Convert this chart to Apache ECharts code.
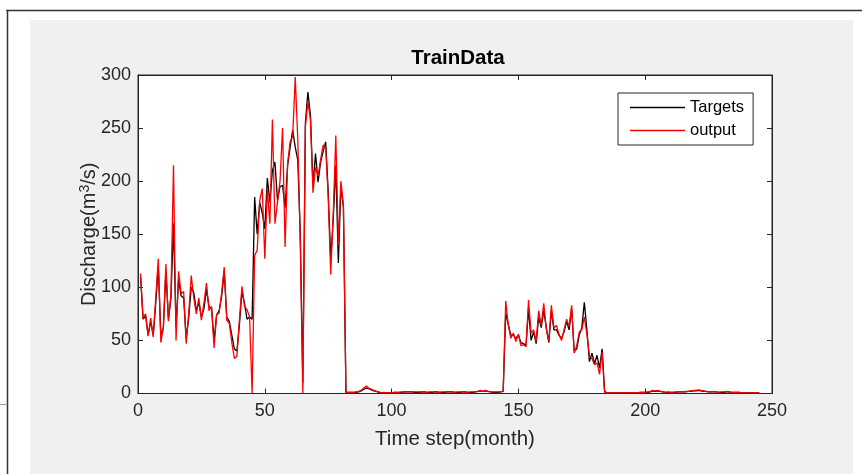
<!DOCTYPE html>
<html>
<head>
<meta charset="utf-8">
<script src="https://cdn.jsdelivr.net/npm/echarts@6/dist/echarts.min.js"></script>
<style>
html,body{margin:0;padding:0;background:#fff;}
#chart{width:862px;height:474px;}
</style>
</head>
<body>
<div id="chart"></div>
<script>
// ---- data (time step 1..245) ----
var titleText = 'TrainData';
var seriesNames = ['Targets', 'output'];
var xTicks = [0, 50, 100, 150, 200, 250];
var yTicks = [0, 50, 100, 150, 200, 250, 300];

var targets = [
  110, 70, 73, 55, 68, 55, 85, 120, 55, 62,
  115, 70, 90, 160, 62, 108, 92, 90, 52, 72,
  100, 95, 78, 86, 72, 80, 98, 82, 80, 50,
  74, 78, 92, 115, 72, 68, 55, 42, 40, 65,
  96, 85, 70, 72, 70, 185, 150, 180, 170, 155,
  203, 180, 210, 218, 182, 195, 196, 175, 215, 232,
  248, 232, 220, 150, 10, 255, 284, 262, 196, 226,
  199, 218, 228, 237, 190, 126, 165, 215, 123, 195,
  175, 1, 1, 1, 1, 1, 1.5, 2.5, 4, 5,
  4.5, 3.5, 2.5, 2, 1, 0.5, 0.5, 0.5, 0.5, 0.5,
  1, 1, 1, 1, 1.5, 1.5, 1.5, 1.5, 1, 1,
  1, 1.5, 1.5, 1, 1, 1, 1.5, 1.5, 1, 1,
  1, 1.5, 1.5, 1.5, 1, 1, 1, 1.5, 1.5, 1,
  1, 1, 1.5, 2, 2.5, 2, 2.5, 2, 1.5, 1,
  1, 1, 1.5, 2, 76, 65, 55, 55, 52, 55,
  48, 47, 45, 80, 50, 58, 47, 72, 62, 78,
  62, 48, 78, 60, 60, 55, 52, 58, 68, 60,
  80, 40, 42, 55, 62, 86, 60, 30, 38, 28,
  36, 24, 42, 2, 0.5, 0.5, 0.5, 0.5, 0.5, 0.5,
  0.5, 0.5, 0.5, 0.5, 0.5, 0.5, 0.5, 1, 1, 1,
  1, 1.5, 2.5, 2, 2.5, 2, 1.5, 1, 1, 1,
  1, 1, 1.5, 1.5, 1.5, 1.5, 2, 2, 2.5, 2.5,
  3, 2.5, 2, 2, 1.5, 1.5, 1.5, 1.5, 1, 1,
  1, 1.5, 1.5, 1, 1, 1, 1, 0.5, 0.5, 0.5,
  0.5, 0.5, 0.5, 0.5, 0.5
];

var output = [
  113, 71, 75, 54, 71, 53, 90, 127, 48, 62,
  122, 68, 94, 215, 50, 115, 94, 96, 47, 75,
  111, 90, 75, 90, 69, 85, 104, 78, 82, 43,
  74, 76, 95, 119, 69, 66, 48, 33, 35, 70,
  101, 82, 79, 72, 0, 130, 135, 182, 193, 127,
  192, 160, 258, 160, 180, 200, 250, 138, 217, 237,
  242, 298, 240, 140, 0, 251, 275, 258, 189, 213,
  205, 220, 234, 232, 185, 112, 170, 243, 140, 200,
  178, 1, 1, 1, 1, 1.5, 2, 3, 5, 7,
  5, 4, 3, 2, 1.5, 0.5, 1, 0.5, 0.5, 0.5,
  1, 1, 1, 1.5, 1.5, 1.5, 1.5, 1.5, 1.5, 1.5,
  1.5, 1.5, 1, 1, 1.5, 1.5, 1.5, 1, 1, 1.5,
  1.5, 1.5, 1.5, 1, 1, 1.5, 1.5, 1.5, 1, 1,
  1.5, 1.5, 1.5, 2, 3, 2, 3, 2, 1.5, 1.5,
  1.5, 1.5, 1.5, 2, 87, 65, 52, 57, 49, 56,
  45, 46, 44, 88, 57, 60, 49, 78, 64, 85,
  61, 49, 83, 62, 64, 56, 50, 60, 70, 63,
  83, 38, 45, 58, 60, 72, 56, 36, 33, 27,
  29, 18, 39, 1, 0.5, 0.5, 0.5, 0.5, 0.5, 0.5,
  0.5, 0.5, 0.5, 0.5, 0.5, 0.5, 0.5, 1, 1, 1,
  1.5, 2, 3, 2.5, 3, 2, 1.5, 1, 1.5, 1,
  1, 1.5, 1.5, 1.5, 1.5, 2, 2, 2.5, 3, 3,
  3.5, 3, 2.5, 2, 1.5, 1.5, 2, 1.5, 1, 1.5,
  1.5, 2, 1.5, 1, 1, 1, 1, 0.5, 0.5, 0.5,
  0.5, 0.5, 0.5, 0.5, 0.5
];

// ---- chart ----
var FONT = '"Liberation Sans", Arial, Helvetica, sans-serif';
var AX = '#262626';
var chart = echarts.init(document.getElementById('chart'), null, {renderer: 'canvas'});

function pairs(arr) { return arr.map(function (v, i) { return [i + 1, v]; }); }
function tick() { return {show: true, inside: true, length: 5, lineStyle: {color: AX, width: 1}}; }
function axLine() { return {show: true, onZero: false, lineStyle: {color: AX, width: 1}}; }

var option = {
  backgroundColor: '#ffffff',
  animation: false,
  textStyle: {fontFamily: FONT},
  graphic: [
    {type: 'rect', z: -10, shape: {x: 30, y: 20, width: 823, height: 454}, style: {fill: '#f0f0f0'}},
    {type: 'line', z: -9, shape: {x1: 6, y1: 10.5, x2: 862, y2: 10.5}, style: {stroke: '#333', lineWidth: 1.5}},
    {type: 'line', z: -9, shape: {x1: 7.5, y1: 10, x2: 7.5, y2: 474}, style: {stroke: '#333', lineWidth: 1.5}},
    {type: 'line', z: -9, shape: {x1: 0, y1: 404.5, x2: 6, y2: 404.5}, style: {stroke: '#999', lineWidth: 1}}
  ],
  title: {
    text: titleText,
    left: 453, top: 43, textAlign: 'center',
    textStyle: {fontFamily: FONT, fontSize: 20.5, fontWeight: 'bold', color: '#000'}
  },
  legend: {
    data: seriesNames,
    left: 618, top: 93,
    orient: 'vertical',
    icon: 'rect',
    backgroundColor: '#fff',
    borderColor: AX, borderWidth: 1,
    padding: [6, 9, 6, 12],
    itemWidth: 55, itemHeight: 1.5, itemGap: 6,
    textStyle: {fontFamily: FONT, fontSize: 16.5, color: '#000', lineHeight: 17}
  },
  grid: {
    left: 138, top: 75, right: 90, bottom: 80.5,
    show: true, backgroundColor: '#fff', borderColor: AX, borderWidth: 1
  },
  xAxis: [
    {
      type: 'value', min: xTicks[0], max: xTicks[xTicks.length - 1], interval: 50,
      position: 'bottom',
      name: 'Time step(month)', nameLocation: 'middle', nameGap: 35,
      nameTextStyle: {fontFamily: FONT, fontSize: 20.5, color: AX},
      axisLine: axLine(),
      axisTick: tick(),
      axisLabel: {fontFamily: FONT, fontSize: 18, color: AX, margin: 9},
      splitLine: {show: false}
    },
    {
      type: 'value', min: xTicks[0], max: xTicks[xTicks.length - 1], interval: 50,
      position: 'top',
      axisLine: axLine(),
      axisTick: tick(),
      axisLabel: {show: false},
      splitLine: {show: false}
    }
  ],
  yAxis: [
    {
      type: 'value', min: yTicks[0], max: yTicks[yTicks.length - 1], interval: 50,
      position: 'left',
      name: '{n|Discharge(m}{s|3}{n|/s)}', nameLocation: 'middle', nameGap: 38,
      nameMoveOverlap: false,
      nameTextStyle: {
        fontFamily: FONT, fontSize: 20, color: AX,
        rich: {
          n: {fontFamily: FONT, fontSize: 20, color: AX},
          s: {fontFamily: FONT, fontSize: 14, color: AX, verticalAlign: 'top', padding: [0, 0, 8, 0]}
        }
      },
      axisLine: axLine(),
      axisTick: tick(),
      axisLabel: {fontFamily: FONT, fontSize: 18, color: AX, margin: 7},
      splitLine: {show: false}
    },
    {
      type: 'value', min: yTicks[0], max: yTicks[yTicks.length - 1], interval: 50,
      position: 'right',
      axisLine: axLine(),
      axisTick: tick(),
      axisLabel: {show: false},
      splitLine: {show: false}
    }
  ],
  series: [
    {
      name: seriesNames[0], type: 'line', data: pairs(targets),
      symbol: 'none', showSymbol: false,
      lineStyle: {color: '#000000', width: 1.3},
      itemStyle: {color: '#000000'},
      z: 3
    },
    {
      name: seriesNames[1], type: 'line', data: pairs(output),
      symbol: 'none', showSymbol: false,
      lineStyle: {color: '#ff0000', width: 1.3},
      itemStyle: {color: '#ff0000'},
      z: 4
    }
  ]
};
chart.setOption(option);
</script>
</body>
</html>
